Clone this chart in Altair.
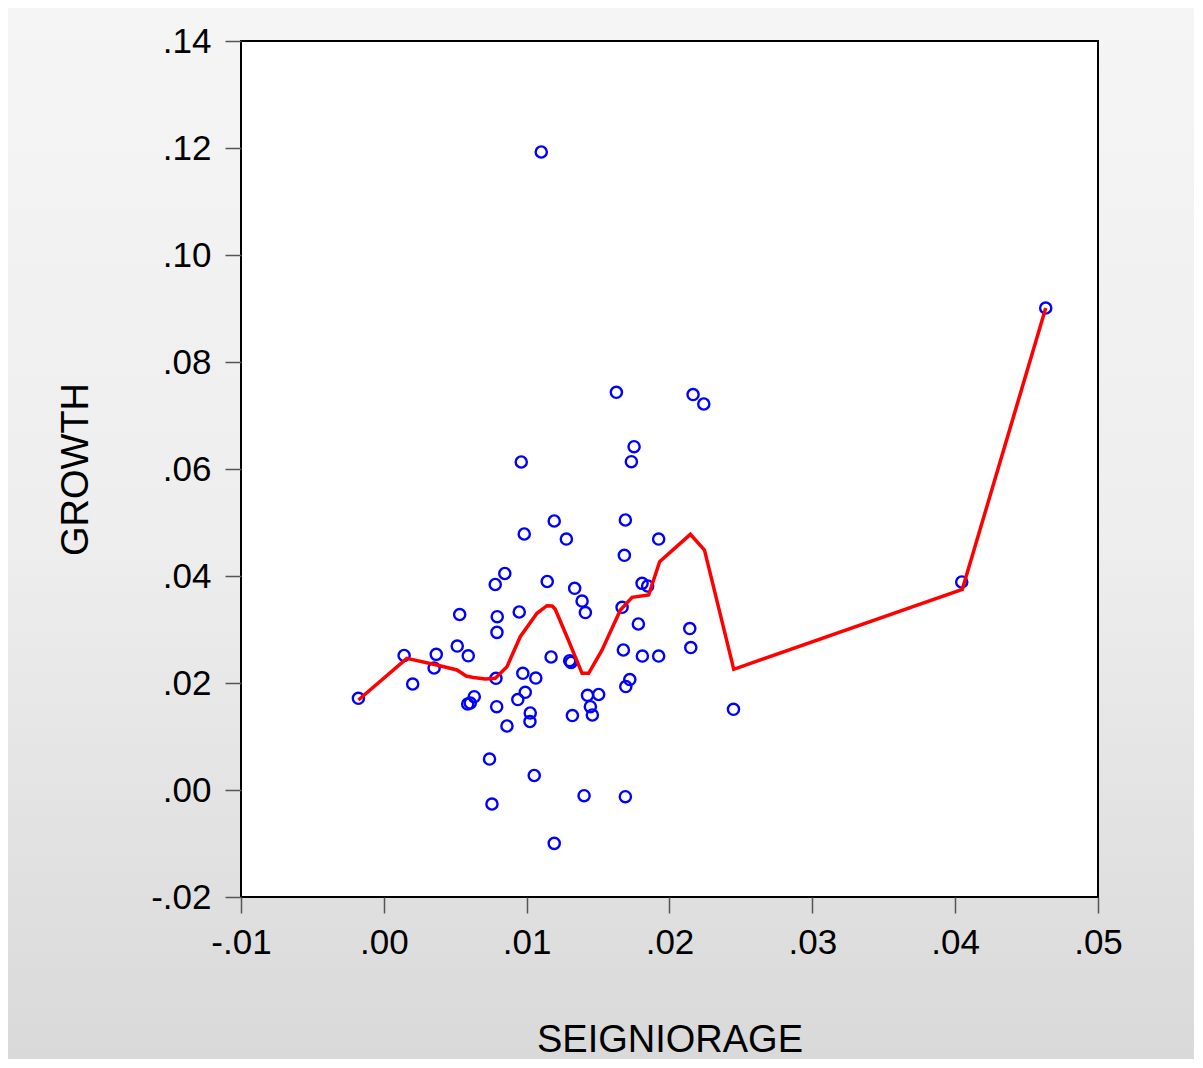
import altair as alt
import pandas as pd

# Scatter data
seigniorage = [
    -0.00178, 0.00142, 0.00202, 0.00352, 0.00367, 0.00514, 0.00531, 0.00591, 0.00587, 0.00605,
    0.00633, 0.00740, 0.00757, 0.00785, 0.00790, 0.00792, 0.00794, 0.00780, 0.00847, 0.00862,
    0.00948, 0.00938, 0.00962, 0.00983, 0.00973, 0.00990, 0.01025, 0.01023, 0.01064, 0.01053,
    0.01102, 0.01144, 0.01171, 0.01193, 0.01193, 0.01278, 0.01301, 0.01311, 0.01320, 0.01336,
    0.01388, 0.01411, 0.01402, 0.01426, 0.01446, 0.01460, 0.01504, 0.01628, 0.01668, 0.01677,
    0.01684, 0.01691, 0.01691, 0.01694, 0.01722, 0.01733, 0.01752, 0.01782, 0.01808, 0.01810,
    0.01847, 0.01924, 0.01924, 0.02142, 0.02149, 0.02165, 0.02240, 0.02448, 0.04046, 0.04634,
]
growth = [
    0.01714, 0.02514, 0.01981, 0.02280, 0.02536, 0.02691, 0.03280, 0.02508, 0.01607, 0.01626,
    0.01744, 0.00579, -0.00262, 0.02088, 0.01557, 0.02947, 0.03239, 0.03841, 0.04047, 0.01196,
    0.03327, 0.01691, 0.06131, 0.04785, 0.02181, 0.01826, 0.01439, 0.01280, 0.02093, 0.00271,
    0.11925, 0.03897, 0.02486, 0.05028, -0.00997, 0.04691, 0.02417, 0.02383, 0.01392, 0.03770,
    0.03532, 0.03317, -0.00107, 0.01770, 0.01557, 0.01402, 0.01785, 0.07434, 0.03415, 0.02617,
    0.04387, 0.05047, -0.00125, 0.01934, 0.02065, 0.06136, 0.06417, 0.03103, 0.03863, 0.02504,
    0.03813, 0.04691, 0.02504, 0.03018, 0.02663, 0.07392, 0.07215, 0.01508, 0.03888, 0.09009,
]

# Nonparametric fit line
fit_x = [
    -0.00178, 0.00161, 0.00371, 0.00512, 0.00577, 0.00628, 0.00710, 0.00780, 0.00862, 0.00955,
    0.01072, 0.01142, 0.01179, 0.01200, 0.01282, 0.01388, 0.01434, 0.01528, 0.01656, 0.01738,
    0.01854, 0.01931, 0.02146, 0.02245, 0.02450, 0.04050, 0.04634,
]
fit_y = [
    0.01682, 0.02461, 0.02336, 0.02243, 0.02131, 0.02103, 0.02075, 0.02088, 0.02304, 0.02865,
    0.03303, 0.03445, 0.03439, 0.03377, 0.02865, 0.02181, 0.02181, 0.02617, 0.03364, 0.03602,
    0.03645, 0.04267, 0.04779, 0.04486, 0.02256, 0.03751, 0.09009,
]

x_ticks = [-0.01, 0.0, 0.01, 0.02, 0.03, 0.04, 0.05]
y_ticks = [-0.02, 0.0, 0.02, 0.04, 0.06, 0.08, 0.10, 0.12, 0.14]

W, H = 857, 856
FONT = "Liberation Sans"

pts = pd.DataFrame({"SEIGNIORAGE": seigniorage, "GROWTH": growth})
fit = pd.DataFrame({"SEIGNIORAGE": fit_x, "GROWTH": fit_y, "i": list(range(len(fit_x)))})
one = pd.DataFrame({"k": [0]})

label_expr = "replace(replace(format(datum.value, '.2f'), '0.', '.'), '\u2212', '-')"

x_enc = alt.X(
    "SEIGNIORAGE:Q",
    scale=alt.Scale(domain=[-0.01, 0.05], nice=False, zero=False),
    axis=alt.Axis(
        values=x_ticks, labelExpr=label_expr, grid=False, domain=False,
        tickSize=16, tickColor="#555555", tickWidth=1.5,
        labelFont=FONT, labelFontSize=35, labelColor="black", labelPadding=12,
        labelFlush=False, labelOverlap=False,
        title="SEIGNIORAGE", titleFont=FONT, titleFontSize=38, titleFontWeight="normal",
        titleColor="black", titleBaseline="alphabetic", titleY=154, titleX=W / 2,
        zindex=1,
    ),
)
y_enc = alt.Y(
    "GROWTH:Q",
    scale=alt.Scale(domain=[-0.02, 0.14], nice=False, zero=False),
    axis=alt.Axis(
        values=y_ticks, labelExpr=label_expr, grid=False, domain=False,
        tickSize=16, tickColor="#555555", tickWidth=1.5,
        labelFont=FONT, labelFontSize=35, labelColor="black", labelPadding=14,
        labelFlush=False, labelOverlap=False,
        title="GROWTH", titleFont=FONT, titleFontSize=38, titleFontWeight="normal",
        titleColor="black", titleBaseline="alphabetic", titleAngle=270,
        titleX=-154, titleY=H / 2, titleAlign="center",
        zindex=1,
    ),
)

gradient = alt.Gradient(
    gradient="linear", x1=0, y1=0, x2=0, y2=1,
    stops=[
        alt.GradientStop(offset=0, color="#f5f5f5"),
        alt.GradientStop(offset=0.5, color="#eeeeee"),
        alt.GradientStop(offset=1, color="#d9d9d9"),
    ],
)

bg = alt.Chart(one).mark_rect(color=gradient).encode(
    x=alt.value(-233), x2=alt.value(953), y=alt.value(-33), y2=alt.value(1018)
)
plot_bg = alt.Chart(one).mark_rect(color="white").encode(
    x=alt.value(0), x2=alt.value(W), y=alt.value(0), y2=alt.value(H)
)
points = alt.Chart(pts).mark_point(
    shape="circle", filled=False, color="#0000ff", strokeWidth=2.4, size=125, opacity=1
).encode(x=x_enc, y=y_enc)
line = alt.Chart(fit).mark_line(color="#ff0000", strokeWidth=3.5).encode(
    x="SEIGNIORAGE:Q", y="GROWTH:Q", order="i:Q"
)
frame = alt.Chart(one).mark_rect(fillOpacity=0, stroke="black", strokeWidth=2).encode(
    x=alt.value(0), x2=alt.value(W), y=alt.value(0), y2=alt.value(H)
)

chart = (
    alt.layer(bg, plot_bg, points, line, frame)
    .properties(width=W, height=H, padding=0, background="white")
    .configure_view(strokeWidth=0)
)

chart.save("out.html", embed_options={"renderer": "svg", "actions": False})
